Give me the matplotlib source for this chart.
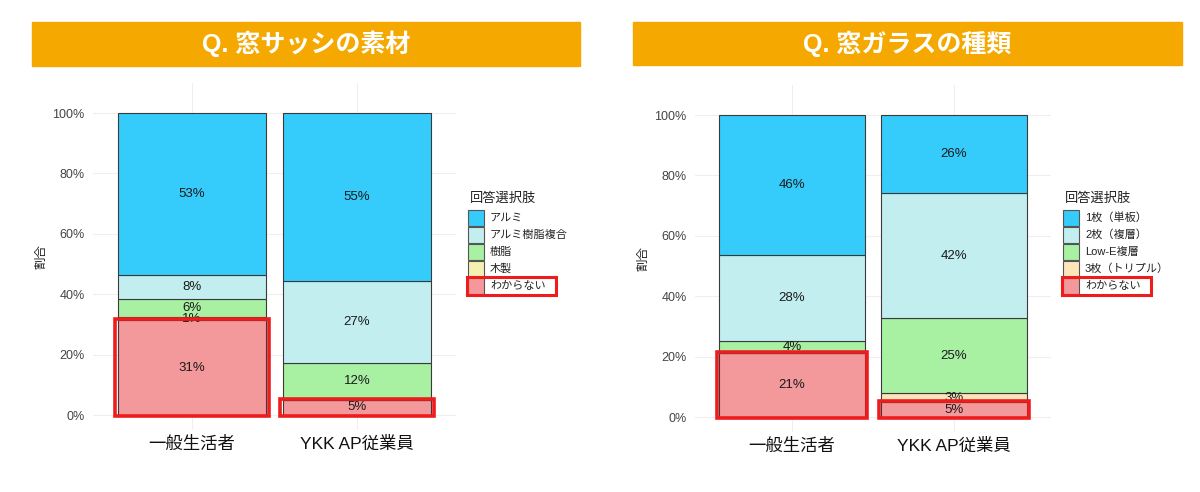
import matplotlib.pyplot as plt
from matplotlib.patches import Rectangle

plt.rcParams['font.family'] = ['Liberation Sans', 'Noto Sans CJK JP', 'DejaVu Sans']

W, H = 1200, 492

groups = ['一般生活者', 'YKK AP従業員']
yticks = [0, 20, 40, 60, 80, 100]

# stacked bottom -> top
sash_title = 'Q. 窓サッシの素材'
sash_labels = ['わからない', '木製', '樹脂', 'アルミ樹脂複合', 'アルミ']
sash_general = [31, 1, 6, 8, 53]
sash_ykk = [5, 0, 12, 27, 55]
sash_colors = ['#f4999b', '#f3f0b2', '#a8f0a2', '#c3eef0', '#35cbfb']

glass_title = 'Q. 窓ガラスの種類'
glass_labels = ['わからない', '3枚（トリプル）', 'Low-E複層', '2枚（複層）', '1枚（単板）']
glass_general = [21, 0, 4, 28, 46]
glass_ykk = [5, 3, 25, 42, 26]
glass_colors = ['#f4999b', '#fbe6bc', '#a8f0a2', '#c3eef0', '#35cbfb']


def fx(x):
    return x / W


def fy(y):
    return 1 - y / H


def panel(fig, title, labels, series, colors, ax_px, banner_px, leg_px):
    # ax_px: left, right, y of 0%, y of 100%
    left, right, y0, y1 = ax_px
    unit = y0 - y1
    bot_px = y0 + 0.05 * unit
    top_px = y1 - 0.1 * unit
    ax = fig.add_axes([fx(left), fy(bot_px), fx(right - left), (bot_px - top_px) / H])

    for i, vals in enumerate(series):
        total = sum(vals)
        bottom = 0
        for j, v in enumerate(vals):
            h = v / total
            ax.bar(i, h, bottom=bottom, width=0.9, color=colors[j],
                   edgecolor='#3a3a3a', linewidth=0.8, zorder=2)
            if v > 0:
                ax.text(i, bottom + h / 2, f'{v}%', ha='center', va='center',
                        fontsize=9.5, color='#1a1a1a', zorder=4)
            bottom += h
        h0 = vals[0] / total
        ax.add_patch(Rectangle((i - 0.465, -0.004), 0.93, h0 + 0.008, fill=False,
                               edgecolor='#ee1c1c', linewidth=2.6, zorder=5, clip_on=False))

    ax.set_xlim(-0.6, 1.6)
    ax.set_ylim(-0.05, 1.1)
    ax.set_yticks([t / 100 for t in yticks])
    ax.set_yticklabels([f'{t}%' for t in yticks], fontsize=9, color='#444444')
    ax.set_xticks(range(len(groups)))
    ax.set_xticklabels(groups, fontsize=12.5, color='#111111')
    ax.tick_params(length=0)
    ax.tick_params(axis='x', pad=4)
    ax.tick_params(axis='y', pad=6)
    for s in ax.spines.values():
        s.set_visible(False)
    ax.set_axisbelow(True)
    ax.grid(color='#f4edf0', linewidth=0.8)
    ax.set_ylabel('割合', fontsize=9, color='#222222', labelpad=4)

    # title banner
    bx0, bx1, by0, by1 = banner_px
    fig.add_artist(Rectangle((fx(bx0), fy(by1)), fx(bx1 - bx0), (by1 - by0) / H,
                             transform=fig.transFigure, color='#f5a800', zorder=0))
    fig.text(fx((bx0 + bx1) / 2), fy((by0 + by1) / 2), title, ha='center', va='center',
             fontsize=18, fontweight='bold', color='white')

    # legend
    lx, ly = leg_px
    fig.text(fx(lx + 2), fy(ly), '回答選択肢', ha='left', va='center', fontsize=9.5, color='#222222')
    order = list(range(len(labels)))[::-1]
    for k, j in enumerate(order):
        cy = ly + 19 + k * 17
        fig.add_artist(Rectangle((fx(lx), fy(cy + 8)), fx(16), 16 / H,
                                 transform=fig.transFigure, facecolor=colors[j],
                                 edgecolor='#555555', linewidth=0.8))
        fig.text(fx(lx + 22), fy(cy), labels[j], ha='left', va='center',
                 fontsize=8, color='#222222')
    cy = ly + 19 + (len(labels) - 1) * 17
    fig.add_artist(Rectangle((fx(lx - 1), fy(cy + 9)), fx(89), 18 / H,
                             transform=fig.transFigure, fill=False,
                             edgecolor='#ee1c1c', linewidth=2.2))
    return ax


fig = plt.figure(figsize=(W / 100, H / 100), dpi=100)

panel(fig, sash_title, sash_labels, [sash_general, sash_ykk], sash_colors,
      (93, 456, 415, 113), (32, 580, 22, 66), (468, 199))
panel(fig, glass_title, glass_labels, [glass_general, glass_ykk], glass_colors,
      (695, 1051, 417, 115), (633, 1182, 22, 65), (1063, 199))

fig.savefig('out.png', dpi=100)
